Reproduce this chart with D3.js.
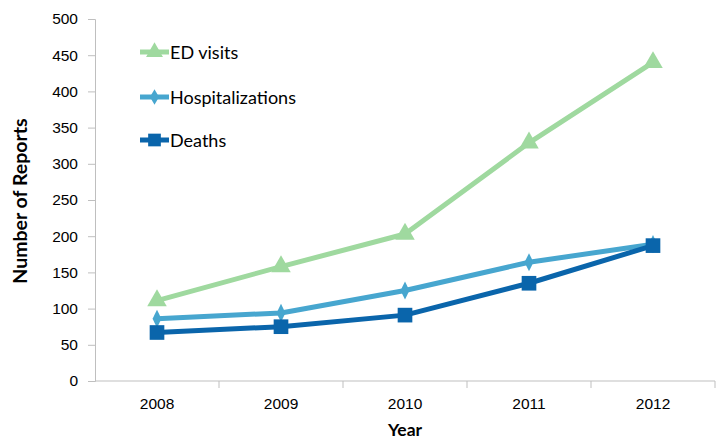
<!DOCTYPE html>
<html>
<head>
<meta charset="utf-8">
<script src="https://cdn.jsdelivr.net/npm/d3@7"></script>
<style>
  html, body { margin: 0; padding: 0; background: #fff; }
  svg { display: block; font-family: Lato, "Open Sans", "Liberation Sans", sans-serif; }
</style>
</head>
<body>
<svg id="chart" width="722" height="440"></svg>
<script>
const years = ["2008", "2009", "2010", "2011", "2012"];
const edVisits = [111, 158, 203, 329, 440];
const hospitalizations = [86, 94, 125, 164, 189];
const deaths = [67, 75, 91, 135, 187];
const yTicks = [0, 50, 100, 150, 200, 250, 300, 350, 400, 450, 500];
const seriesNames = ["ED visits", "Hospitalizations", "Deaths"];

const series = [
  { name: seriesNames[0], values: edVisits, color: "#9fd99f", symbol: d3.symbolTriangle, size: 165 },
  { name: seriesNames[1], values: hospitalizations, color: "#47a6cf", symbol: d3.symbolDiamond, size: 95 },
  { name: seriesNames[2], values: deaths, color: "#0a65ab", symbol: d3.symbolSquare, size: 215 }
];

const svg = d3.select("#chart");
const mLeft = 95, mRight = 715, mTop = 19, mBottom = 381;

const x = d3.scaleBand().domain(years).range([mLeft, mRight]);
const y = d3.scaleLinear().domain([0, 500]).range([mBottom, mTop]);

const axisColor = "#bfbfbf";

// Y axis
const yAxis = svg.append("g").attr("transform", `translate(${mLeft},0)`)
  .call(d3.axisLeft(y).tickValues(yTicks).tickSize(7).tickPadding(10).tickFormat(d3.format("d")));
yAxis.select(".domain").attr("stroke", axisColor);
yAxis.selectAll(".tick line").attr("stroke", axisColor);
yAxis.selectAll("text").attr("font-size", 15.5).attr("fill", "#000");

// X axis
const xAxis = svg.append("g").attr("transform", `translate(0,${mBottom})`)
  .call(d3.axisBottom(x).tickSize(0).tickPadding(17));
xAxis.select(".domain").attr("stroke", axisColor).attr("d", `M${mLeft},0H${mRight}`);
xAxis.selectAll("text").attr("font-size", 15.5).attr("fill", "#000");
const boundaries = years.map(yr => x(yr) + x.bandwidth());
xAxis.selectAll(".bound").data(boundaries).enter().append("line")
  .attr("x1", d => d).attr("x2", d => d).attr("y1", 0).attr("y2", 7)
  .attr("stroke", axisColor);

// Axis titles
svg.append("text").attr("x", (mLeft + mRight) / 2).attr("y", 436)
  .attr("text-anchor", "middle").attr("font-weight", "bold").attr("font-size", 17.5).text("Year");
svg.append("text").attr("transform", `translate(27,201) rotate(-90)`)
  .attr("text-anchor", "middle").attr("font-weight", "bold").attr("font-size", 19.5).text("Number of Reports");

const cx = d => x(d) + x.bandwidth() / 2;
const line = d3.line().x((d, i) => cx(years[i])).y(d => y(d));

series.forEach(s => {
  svg.append("path").datum(s.values).attr("d", line)
    .attr("fill", "none").attr("stroke", s.color).attr("stroke-width", 5).attr("stroke-linejoin", "round");
  svg.selectAll(null).data(s.values).enter().append("path")
    .attr("d", d3.symbol().type(s.symbol).size(s.size))
    .attr("transform", (d, i) => `translate(${cx(years[i])},${y(d)})${s.symbol === d3.symbolDiamond ? " scale(0.85,1)" : ""}`)
    .attr("fill", s.color);
});

// Legend
const legendY = [52, 97, 140];
series.forEach((s, i) => {
  const g = svg.append("g").attr("transform", `translate(140,${legendY[i]})`);
  g.append("line").attr("x1", 0).attr("x2", 29).attr("y1", 0).attr("y2", 0)
    .attr("stroke", s.color).attr("stroke-width", 5);
  g.append("path").attr("d", d3.symbol().type(s.symbol).size(s.size * 0.75))
    .attr("transform", `translate(14.5,0)`).attr("fill", s.color);
  g.append("text").attr("x", 30).attr("y", 6.5).attr("font-size", 18).attr("fill", "#000").text(s.name);
});
</script>
</body>
</html>
